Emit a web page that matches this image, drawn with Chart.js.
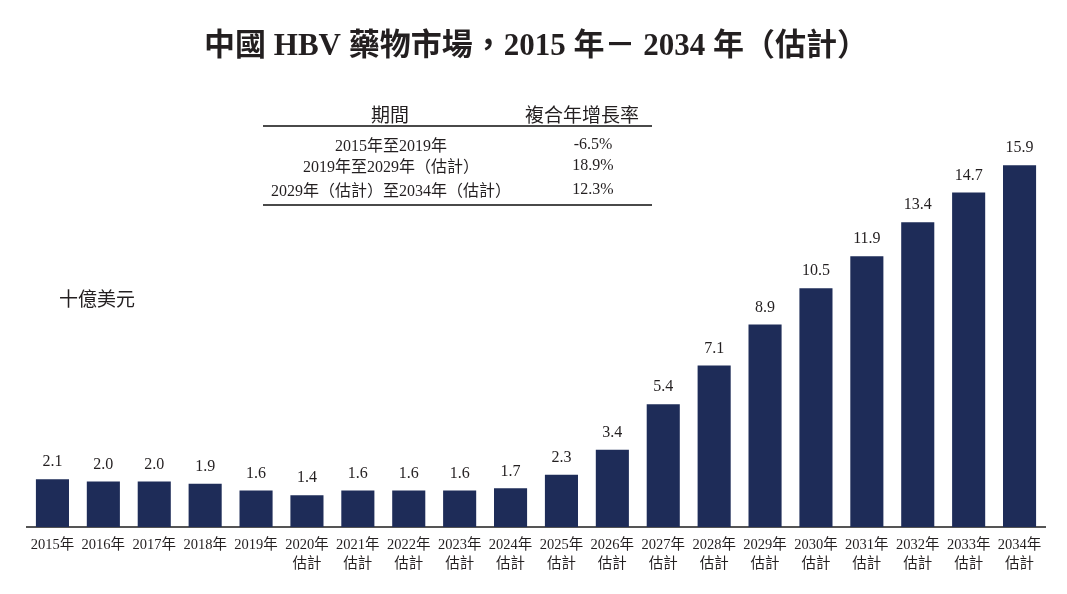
<!DOCTYPE html>
<html>
<head>
<meta charset="utf-8">
<script src="https://cdn.jsdelivr.net/npm/chart.js@4.4.0/dist/chart.umd.min.js"></script>
<style>
  html, body { margin: 0; padding: 0; background: #fff; }
  #wrap { position: relative; width: 1067px; height: 594px; }
  .txt { position: absolute; transform: translate(-50%, -50%); white-space: nowrap; color: #231f20;
         font-family: "Liberation Serif", "Noto Sans CJK TC", serif; }
  .rule { position: absolute; left: 263px; width: 389px; height: 2px; background: #4a4a4a; }
</style>
</head>
<body>
<div id="wrap">
  <canvas id="chart" width="1067" height="594"></canvas>
</div>
<script>
// 數據
const years = ['2015年', '2016年', '2017年', '2018年', '2019年', '2020年', '2021年', '2022年', '2023年', '2024年',
               '2025年', '2026年', '2027年', '2028年', '2029年', '2030年', '2031年', '2032年', '2033年', '2034年'];
const estimated = [false, false, false, false, false, true, true, true, true, true,
                   true, true, true, true, true, true, true, true, true, true];
const marketSize = [2.1, 2.0, 2.0, 1.9, 1.6, 1.4, 1.6, 1.6, 1.6, 1.7,
                    2.3, 3.4, 5.4, 7.1, 8.9, 10.5, 11.9, 13.4, 14.7, 15.9];
const periods = ['2015年至2019年', '2019年至2029年（估計）', '2029年（估計）至2034年（估計）'];
const cagrs = ['-6.5%', '18.9%', '12.3%'];

const serif = '"Liberation Serif", "Noto Sans CJK TC", serif';
const barColor = '#1e2c58';
const textColor = '#231f20';

// 表格與單位
const wrap = document.getElementById('wrap');
function addText(text, x, y, size) {
    const d = document.createElement('div');
    d.className = 'txt';
    d.textContent = text;
    d.style.left = x + 'px';
    d.style.top = y + 'px';
    d.style.fontSize = size + 'px';
    wrap.appendChild(d);
}
function addRule(y) {
    const r = document.createElement('div');
    r.className = 'rule';
    r.style.top = y + 'px';
    wrap.appendChild(r);
}
addText('期間', 390, 113, 19);
addText('複合年增長率', 582, 113, 19);
addRule(125);
const rowY = [144, 165, 189];
periods.forEach(function(p, i) {
    addText(p, 391, rowY[i], 16);
    addText(cagrs[i], 593, rowY[i], 16);
});
addRule(204);
addText('十億美元', 97, 297, 19);

// 柱頂數值
const valueLabels = {
    id: 'valueLabels',
    afterDatasetsDraw(chart) {
        const ctx = chart.ctx;
        const meta = chart.getDatasetMeta(0);
        ctx.save();
        ctx.font = '16px ' + serif;
        ctx.fillStyle = textColor;
        ctx.textAlign = 'center';
        ctx.textBaseline = 'middle';
        meta.data.forEach(function(bar, i) {
            ctx.fillText(marketSize[i].toFixed(1), bar.x, bar.y - 17);
        });
        ctx.restore();
    }
};

const labels = years.map(function(y, i) { return estimated[i] ? [y, '估計'] : y; });

new Chart(document.getElementById('chart').getContext('2d'), {
    type: 'bar',
    data: {
        labels: labels,
        datasets: [{
            data: marketSize,
            backgroundColor: barColor,
            categoryPercentage: 1.0,
            barPercentage: 0.65
        }]
    },
    options: {
        responsive: false,
        animation: false,
        devicePixelRatio: 1,
        layout: { padding: { left: 27, right: 22, top: 0, bottom: 0 } },
        plugins: {
            legend: { display: false },
            tooltip: { enabled: false },
            title: {
                display: true,
                text: '中國 HBV 藥物市場，2015 年－ 2034 年（估計）',
                color: textColor,
                font: { family: serif, size: 31, weight: 'bold', lineHeight: 1.2 },
                padding: { top: 28, bottom: 52.3 }
            }
        },
        scales: {
            x: {
                grid: { display: false, drawTicks: false },
                border: { display: true, color: '#555555', width: 2 },
                ticks: {
                    color: textColor,
                    font: { family: serif, size: 14.5, lineHeight: 1.31 },
                    padding: 9,
                    maxRotation: 0,
                    autoSkip: false
                },
                afterFit: function(scale) { scale.height = 67; }
            },
            y: {
                display: false,
                min: 0,
                max: 18
            }
        }
    },
    plugins: [valueLabels]
});
</script>
</body>
</html>
